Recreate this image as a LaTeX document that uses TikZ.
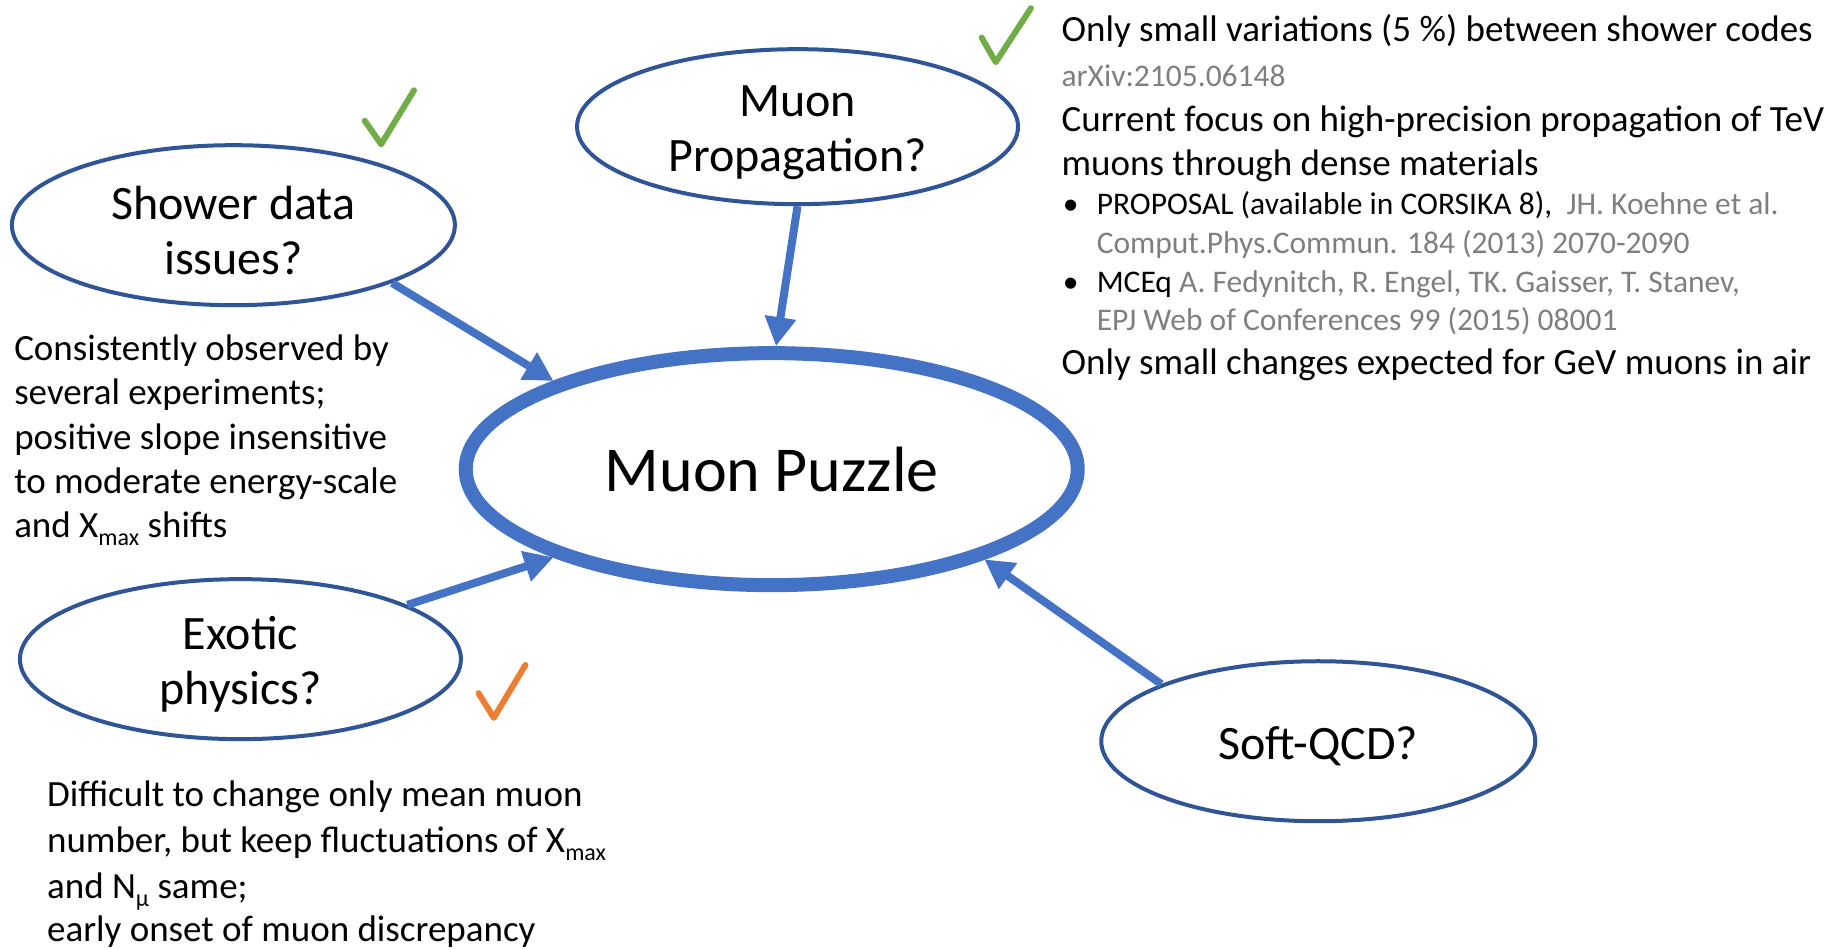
\documentclass[tikz,border=0pt]{standalone}
\usepackage{fontspec}
\setmainfont{Carlito}
\usetikzlibrary{arrows.meta,shapes.geometric}

\definecolor{accent}{HTML}{4472C4}
\definecolor{rimblue}{HTML}{2F5597}
\definecolor{refgray}{HTML}{7F7F7F}
\definecolor{okgreen}{HTML}{70AD47}
\definecolor{okorange}{HTML}{ED7D31}

% lowered small index, as in X_max
\newcommand\lowidx[1]{\raisebox{-0.22em}{\fontsize{24}{24}\selectfont #1}}
% taller first line, so the bubble text sits a little lower
\newcommand\topgap{\rule{0pt}{43pt}}

\tikzset{
  bubble/.style={ellipse, draw=rimblue, line width=4pt, fill=white, align=center,
                 inner sep=0pt, font=\fontsize{48}{55}\selectfont},
  hub/.style={ellipse, draw=accent, line width=14pt, fill=white, inner sep=0pt,
              font=\fontsize{64}{70}\selectfont},
  feed/.style={draw=accent, line width=8pt, -{Triangle[length=29pt,width=30pt]}},
  body/.style={anchor=base west, inner sep=0pt, font=\fontsize{37}{45}\selectfont},
  cite/.style={anchor=base west, inner sep=0pt, font=\fontsize{31.5}{38}\selectfont, text=refgray},
  item/.style={anchor=base west, inner sep=0pt, font=\fontsize{31.5}{38}\selectfont},
  tick/.style={line width=6pt, line cap=round, line join=round},
}

\begin{document}
\begin{tikzpicture}[x=1.1728pt,y=-1.1728pt]
\useasboundingbox (0,0) rectangle (1568,809);

% central question and the four candidate causes
\node[hub, minimum width=612pt, minimum height=232pt] (mp) at (658,400) {Muon Puzzle};
\node[bubble, minimum width=443pt, minimum height=160pt] (sd) at (199,192) {\topgap Shower data\\issues?};
\node[bubble, minimum width=441pt, minimum height=155pt] (pr) at (680,108) {\topgap Muon\\Propagation?};
\node[bubble, minimum width=441pt, minimum height=160pt] (ex) at (205,562) {\topgap Exotic\\physics?};
\node[bubble, minimum width=434pt, minimum height=160pt] (sq) at (1124,632) {\topgap Soft-QCD?};

% arrows into the central ellipse
\draw[feed] (sd.340) -- (mp.158);
\draw[feed] (pr.270) -- (mp.88);
\draw[feed] (ex.18) -- (mp.202);
\draw[feed] (sq.160) -- (mp.337);

% status ticks
\draw[tick, okgreen]  (311,103) -- (325,123) -- (353,77);
\draw[tick, okgreen]  (837,32) -- (849,53) -- (879,7);
\draw[tick, okorange] (408,591) -- (421,612) -- (448,567);

% notes on muon propagation
\node[body] (r1) at (905,35)  {Only small variations (5 \%) between shower codes};
\node[cite] (r2) at (905,73.5) {arXiv:2105.06148};
\node[body] (r3) at (905,112) {Current focus on high-precision propagation of TeV};
\node[body] (r4) at (905,150) {muons through dense materials};
\node[item] (b1) at (906,183) {•};
\node[item] (r5) at (935,183) {PROPOSAL (available in CORSIKA 8),\ \ \textcolor{refgray}{JH. Koehne et al.}};
\node[cite] (r6) at (935,216.5) {Comput.Phys.Commun. 184 (2013) 2070-2090};
\node[item] (b2) at (906,249.5) {•};
\node[item] (r7) at (935,249.5) {MCEq \textcolor{refgray}{A. Fedynitch, R. Engel, TK. Gaisser, T. Stanev,}};
\node[cite] (r8) at (935,281.5) {EPJ Web of Conferences 99 (2015) 08001};
\node[body] (r9) at (905,319) {Only small changes expected for GeV muons in air};

% notes on shower data
\node[body] (l1) at (12,307) {Consistently observed by};
\node[body] (l2) at (12,345) {several experiments;};
\node[body] (l3) at (12,383) {positive slope insensitive};
\node[body] (l4) at (12,421) {to moderate energy-scale};
\node[body] (l5) at (12,458) {and X\lowidx{max} shifts};

% notes on exotic physics
\node[body] (e1) at (40,688) {Difficult to change only mean muon};
\node[body] (e2) at (40,727) {number, but keep fluctuations of X\lowidx{max}};
\node[body] (e3) at (40,766) {and N\lowidx{μ} same;};
\node[body] (e4) at (40,803) {early onset of muon discrepancy};
\end{tikzpicture}
\end{document}
